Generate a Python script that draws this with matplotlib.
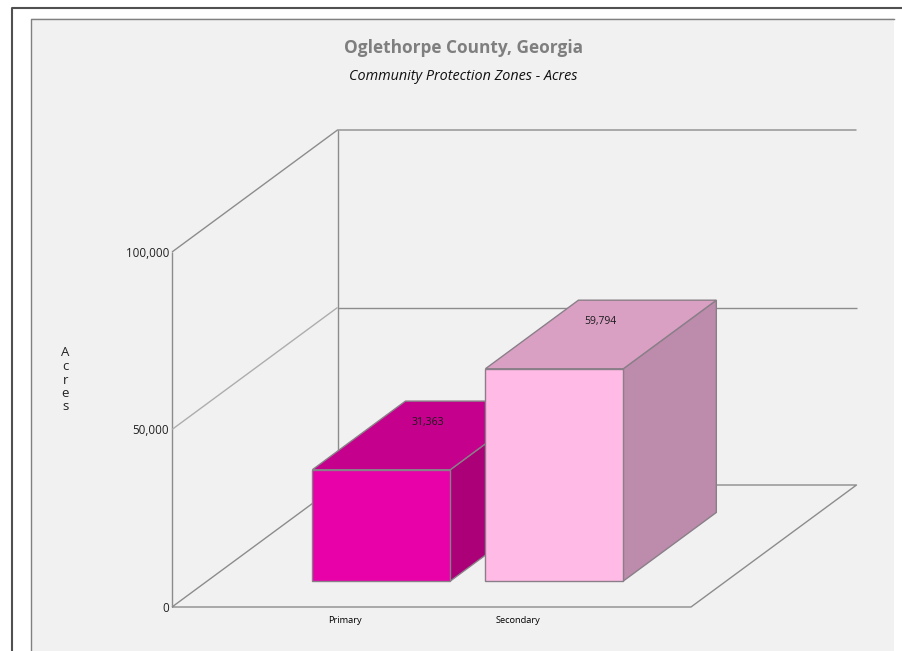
import matplotlib
matplotlib.use("Agg")
import matplotlib.pyplot as plt
from matplotlib.lines import Line2D
from matplotlib.patches import Polygon, Rectangle

plt.rcParams['font.family'] = ['Open Sans', 'DejaVu Sans']

title = "Oglethorpe County, Georgia"
subtitle = "Community Protection Zones - Acres"
y_label = "A\nc\nr\ne\ns"
categories = ["Primary", "Secondary"]
values = [31363, 59794]
value_labels = ["31,363", "59,794"]
y_ticks = [0, 50000, 100000]
y_tick_labels = ["0", "50,000", "100,000"]
front_colors = ["#E800A8", "#FFBBE6"]
top_colors = ["#C4008C", "#D9A0C4"]
side_colors = ["#AC0078", "#BD8BAB"]

W, H = 902, 651
fig = plt.figure(figsize=(W / 100, H / 100), dpi=100, facecolor="white")


def fx(p):
    return p / W


def fy(p):
    return 1 - p / H


# page frame and panel
fig.add_artist(Rectangle((fx(31.5), 0), fx(894 - 31.5), fy(18), transform=fig.transFigure,
                         facecolor="#F1F1F1", edgecolor="none", zorder=-5))
fig.add_artist(Line2D([fx(31.5), fx(31.5), fx(894)], [0, fy(18.5), fy(18.5)],
                      color="#808080", lw=1.0, zorder=-4))
fig.add_artist(Line2D([fx(12), fx(12), 1], [0, fy(8), fy(8)],
                      color="#505050", lw=1.5, zorder=-4))

# plot coordinates: one unit of x is one category slot, depth runs 0..1
px_per_x = 173.0
px_per_v = 0.00355
depth_px_x = 165.5
depth_px_y = 122.0
left, right, top, bottom = 172.0, 857.5, 129.0, 607.0

ax = fig.add_axes([fx(left), fy(bottom), (right - left) / W, (bottom - top) / H])
ax.set_xlim(0, (right - left) / px_per_x)
ax.set_ylim(0, (bottom - top) / px_per_v)
ax.patch.set_alpha(0)
for s in ax.spines.values():
    s.set_visible(False)

DX = depth_px_x / px_per_x
DY = depth_px_y / px_per_v
x_max = 3.0


def proj(x, v, z):
    return x + z * DX, v + z * DY


def line(pts, color, lw=1.0, zorder=1):
    xs, ys = zip(*[proj(*p) for p in pts])
    ax.plot(xs, ys, color=color, lw=lw, zorder=zorder, clip_on=False, solid_capstyle="butt")


# walls and floor
dark = "#8C8C8C"
light = "#ADADAD"
line([(0, 0, 0), (0, y_ticks[-1], 0)], dark)
line([(0, y_ticks[-1], 1), (0, 0, 1)], dark)
line([(0, 0, 0), (x_max, 0, 0), (x_max, 0, 1), (0, 0, 1), (0, 0, 0)], dark)
line([(0, y_ticks[1], 0), (0, y_ticks[1], 1)], light)
line([(0, y_ticks[1], 1), (x_max, y_ticks[1], 1)], dark)
line([(0, y_ticks[2], 0), (0, y_ticks[2], 1), (x_max, y_ticks[2], 1)], dark)

# bars
z0, z1 = 0.213, 0.775
edge = "#8A7F88"
for i, (cat, val, lab) in enumerate(zip(categories, values, value_labels)):
    c = i + 1
    x0, x1 = c - 0.392, c + 0.405
    zo = 3 + i
    front = [proj(x0, 0, z0), proj(x1, 0, z0), proj(x1, val, z0), proj(x0, val, z0)]
    side = [proj(x1, 0, z0), proj(x1, 0, z1), proj(x1, val, z1), proj(x1, val, z0)]
    topf = [proj(x0, val, z0), proj(x1, val, z0), proj(x1, val, z1), proj(x0, val, z1)]
    for pts, col in ((side, side_colors[i]), (topf, top_colors[i]), (front, front_colors[i])):
        ax.add_patch(Polygon(pts, closed=True, facecolor=col, edgecolor=edge, lw=1.0,
                             zorder=zo, clip_on=False, joinstyle="miter"))
    ax.annotate(lab, proj(c, val, 0.5), xytext=(0, 9), textcoords="offset points",
                ha="center", va="center", fontsize=7.5, color="#1a1a1a",
                zorder=zo + 0.5, annotation_clip=False)

ax.set_xticks([1, 2], categories, fontsize=6.7, color="black")
ax.set_yticks(y_ticks, y_tick_labels, fontsize=8.4, color="#222222")
ax.tick_params(axis="both", length=0)
ax.tick_params(axis="x", pad=6.5)
ax.tick_params(axis="y", pad=2)
ax.set_ylabel(y_label, rotation=0, fontsize=9.5, linespacing=1.05, color="#222222",
              ha="center", va="center")
ax.yaxis.set_label_coords((65.5 - left) / (right - left), (bottom - 380) / (bottom - top))

fig.text(fx(463), fy(48), title, ha="center", va="center", fontsize=12.45,
         fontweight="bold", color="#7F7F7F")
fig.text(fx(463), fy(76), subtitle, ha="center", va="center", fontsize=10.35,
         style="italic", color="#111111")

fig.savefig("out.png", dpi=100, facecolor="white")
